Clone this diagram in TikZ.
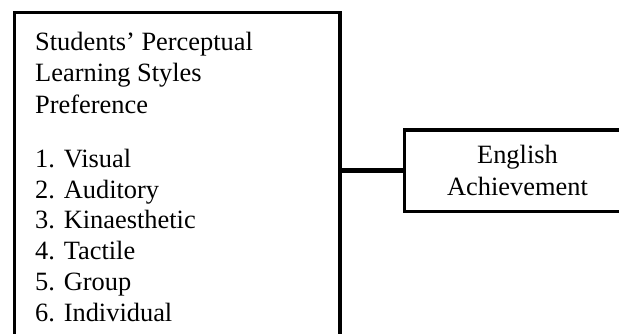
\documentclass[tikz,border=0pt]{standalone}
\usepackage{fontspec}
\setmainfont{Liberation Serif}
\begin{document}
\begin{tikzpicture}[x=1pt,y=-1pt,
  boxline/.style={draw=black,line width=3.8pt,rectangle,inner sep=0pt},
  txt/.style={anchor=base west,inner sep=0pt,font=\fontsize{26.4}{31.5}\selectfont}]
\clip (0,0) rectangle (619,333);
\node[boxline,minimum width=325.5pt,minimum height=347.5pt] (lsp) at (177.25,186.25) {};
\node[boxline,minimum width=226pt,minimum height=81.5pt,align=center,
  font=\fontsize{26.4}{32}\selectfont] (ea) at (517.5,170.75) {English\\Achievement};
\draw[line width=5pt] (ea.west) -- (ea.west -| lsp.east);
\node[txt] (t1) at (35,50) {Students’ Perceptual};
\node[txt] (t2) at (35,81.5) {Learning Styles};
\node[txt] (t3) at (35,113) {Preference};
\node[txt] (i1) at (35,167.5) {1. Visual};
\node[txt] (i2) at (35,198.2) {2. Auditory};
\node[txt] (i3) at (35,228.9) {3. Kinaesthetic};
\node[txt] (i4) at (35,259.6) {4. Tactile};
\node[txt] (i5) at (35,290.3) {5. Group};
\node[txt] (i6) at (35,321) {6. Individual};
\end{tikzpicture}
\end{document}
